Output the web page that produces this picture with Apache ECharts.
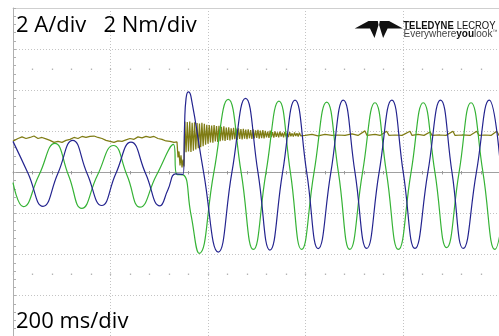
<!DOCTYPE html>
<html>
<head>
<meta charset="utf-8">
<script src="https://cdn.jsdelivr.net/npm/echarts@6.0.0/dist/echarts.min.js"></script>
<style>
  html, body { margin: 0; padding: 0; background: #fff; }
  #chart { width: 499px; height: 336px; }
</style>
</head>
<body>
<div id="chart"></div>
<script>
// scope capture: 200 ms/div, 2 A/div (phase currents), 2 Nm/div (torque)
const timeMin = 0, timeMax = 1000, timeDiv = 200;
const valueMin = -8, valueMax = 8, valueDiv = 2;

// [ms, A]
const blueCurrent = [
  [0, 1.51], [31, -0.05], [61.5, -1.65], [92, -0.05], [122.5, 1.56], [152, -0.05],
  [182, -1.61], [211, -0.05], [242, 1.47], [272, -0.05], [301.5, -1.63], [318, -0.83],
  [334, -0.07], [349, -0.10], [352, 2.34], [355, 3.6], [359.5, 3.92], [365, 3.7],
  [391, 0], [421, -3.88], [449, 0], [477, 3.6], [502.5, 0], [527, -3.78], [553, 0],
  [578.5, 3.52], [602.5, 0], [626, -3.71], [652, 0], [677.5, 3.52], [701.5, 0],
  [725.5, -3.7], [751, 0], [777, 3.52], [800.5, 0], [824.5, -3.7], [851, 0],
  [877, 3.52], [900.5, 0], [923.5, -3.7], [950.5, 0], [977, 3.52], [1001, 0]
];

const greenCurrent = [
  [0, -0.5], [21, -1.67], [53, -0.15], [86, 1.41], [114, -0.15], [141, -1.75],
  [173, -0.15], [206, 1.31], [234, -0.15], [260.5, -1.69], [294, -0.15], [329, 1.36],
  [336, -0.10], [349, -0.12], [365, -2.04], [382, -3.94], [412, 0], [441.5, 3.55],
  [468, 0], [493, -3.75], [519, 0], [545.5, 3.47], [569, 0], [592, -3.75], [617.5, 0],
  [643.5, 3.42], [667.5, 0], [691, -3.75], [717, 0], [742.5, 3.39], [766, 0],
  [790.5, -3.75], [816.5, 0], [841.5, 3.39], [865.5, 0], [889.5, -3.66], [915, 0],
  [939.5, 3.39], [964, 0], [988.5, -3.75], [1013, 0]
];

// [ms, Nm] before the step
const torquePre = [
  [0, 1.52], [10.3, 1.65], [18.5, 1.73], [26.7, 1.65], [34.9, 1.70], [43.1, 1.77],
  [51.3, 1.65], [59.5, 1.70], [67.7, 1.63], [75.9, 1.56], [84.1, 1.46], [92.3, 1.51],
  [100.5, 1.46], [108.7, 1.56], [116.9, 1.61], [125.1, 1.70], [133.3, 1.65], [141.5, 1.75],
  [149.7, 1.70], [158, 1.75], [166.2, 1.77], [174.4, 1.70], [182.6, 1.65], [190.8, 1.56],
  [199, 1.51], [207.2, 1.46], [215.4, 1.53], [223.6, 1.51], [231.8, 1.58], [240, 1.65],
  [248.2, 1.61], [256.4, 1.73], [264.6, 1.68], [272.8, 1.75], [281, 1.70], [289.2, 1.75],
  [297.4, 1.65], [305.6, 1.61], [313.8, 1.53], [322, 1.51], [330.3, 1.46], [336.4, 1.48],
  [338.5, 0.73], [340.5, 1.02], [342.6, 0.34], [344.6, 0.83], [346.7, 0.24], [348.7, 0.63],
  [350.8, 0.29]
];

// ringing after the step, sampled every 2.5 ms from 352.5 ms
const torqueBurstStart = 352.5;
const torqueBurstStep = 2.5;
const torqueBurst = [
  2.48, 0.98, 2.45, 1.02, 2.47, 0.99, 2.42, 1.06, 2.44,
  1.12, 2.40, 1.18, 2.38, 1.22, 2.41, 1.28, 2.36,
  1.35, 2.32, 1.40, 2.30, 1.46, 2.28, 1.44, 2.31, 1.50, 2.25, 1.48, 2.27, 1.52, 2.22, 1.55, 2.24, 1.53,
  2.18, 1.58, 2.20, 1.56, 2.15, 1.60, 2.17, 1.62, 2.13, 1.58, 2.14, 1.63, 2.11, 1.60, 2.12, 1.64,
  2.08, 1.62, 2.10, 1.66, 2.06, 1.63, 2.09, 1.65, 2.05, 1.68, 2.07, 1.64, 2.04, 1.67, 2.06, 1.66,
  2.02, 1.70, 1.98, 1.68, 2.03, 1.72, 1.96, 1.69, 2.00, 1.73, 1.95, 1.70, 1.99, 1.74, 1.93,
  1.71, 1.97, 1.75, 1.92, 1.72, 1.96, 1.76, 1.90, 1.74, 1.94, 1.77, 1.91, 1.75, 1.93, 1.78
];

// [ms, Nm] steady state
const torquePost = [
  [599, 1.80], [613.3, 1.85], [625.6, 1.78], [640, 1.85], [654.4, 1.80], [666.7, 1.82],
  [681, 1.80], [695.3, 1.87], [707.7, 1.80], [722, 2.02], [726.2, 1.80], [742.6, 1.85],
  [752.8, 1.80], [766.6, 2.00], [771.3, 1.80], [783.6, 1.82], [798, 1.80], [814.4, 2.00],
  [818.5, 1.80], [830.8, 1.85], [843.1, 1.80], [855.4, 1.97], [859.5, 1.80], [875.9, 1.82],
  [888.2, 1.80], [902.6, 2.00], [906.7, 1.80], [921, 1.82], [937.4, 1.80], [951.2, 2.00],
  [955.9, 1.80], [968.2, 1.82], [980.5, 1.80], [992.2, 2.00], [997, 1.80], [1005, 1.80]
];

const scaleText = '2 A/div   2 Nm/div';
const timeText = '200 ms/div';

const torque = torquePre.concat(
  torqueBurst.map((v, i) => [torqueBurstStart + i * torqueBurstStep, v]),
  torquePost
);

const gridColor = '#c4c4c4';
const dotLine = { type: [1, 2], color: gridColor, width: 1 };

function timeAxis(extra) {
  return Object.assign({
    type: 'value',
    min: timeMin,
    max: timeMax,
    interval: timeDiv,
    axisLabel: { show: false },
    splitLine: { show: false },
    axisLine: { show: false, onZero: false },
    axisTick: { show: false },
    minorTick: { show: false }
  }, extra);
}

const centerTick = { show: true, length: 2, lineStyle: { color: '#999', width: 1 } };
const dotTick = { show: true, length: 1.5, lineStyle: { color: '#b4b4b4', width: 1.3 } };

const chart = echarts.init(document.getElementById('chart'), null, { renderer: 'canvas' });

chart.setOption({
  animation: false,
  backgroundColor: '#fff',
  grid: { left: 13, top: 8, right: -1.5, bottom: -0.8, outerBoundsMode: 'none', containLabel: false },
  xAxis: [
    timeAxis({
      axisLine: { show: true, onZero: true, lineStyle: { color: '#a0a0a0', width: 1 } },
      axisTick: centerTick,
      minorTick: Object.assign({ splitNumber: 5 }, centerTick),
      splitLine: { show: true, lineStyle: dotLine }
    }),
    timeAxis({
      position: 'top',
      offset: -165,
      axisTick: centerTick,
      minorTick: Object.assign({ splitNumber: 5 }, centerTick)
    }),
    timeAxis({
      position: 'top',
      axisLine: { show: true, onZero: false, lineStyle: { color: '#cfcfcf', width: 1 } }
    }),
    timeAxis({
      position: 'top',
      offset: -62,
      axisTick: dotTick,
      minorTick: Object.assign({ splitNumber: 5 }, dotTick)
    }),
    timeAxis({
      position: 'bottom',
      offset: -61.8,
      axisTick: Object.assign({}, dotTick, { inside: true }),
      minorTick: Object.assign({ splitNumber: 5 }, dotTick)
    })
  ],
  yAxis: {
    type: 'value',
    min: valueMin,
    max: valueMax,
    interval: valueDiv,
    axisLabel: { show: false },
    axisLine: { show: true, lineStyle: { color: '#b0b0b0', width: 1 } },
    axisTick: { show: true, inside: true, length: 3, lineStyle: { color: '#b0b0b0' } },
    minorTick: { show: true, splitNumber: 5, length: 3, lineStyle: { color: '#b0b0b0' } },
    splitLine: { show: true, lineStyle: dotLine }
  },
  series: [
    {
      name: 'Torque',
      type: 'line',
      data: torque,
      showSymbol: false,
      lineStyle: { color: '#7f7c14', width: 1.25 },
      z: 2
    },
    {
      name: 'Phase B',
      type: 'line',
      data: greenCurrent,
      smooth: 0.5,
      showSymbol: false,
      lineStyle: { color: '#36b336', width: 1.2 },
      z: 3
    },
    {
      name: 'Phase A',
      type: 'line',
      data: blueCurrent,
      smooth: 0.5,
      showSymbol: false,
      lineStyle: { color: '#24248f', width: 1.2 },
      z: 4
    }
  ],
  graphic: [
    {
      type: 'text', x: 16, y: 25.4, z: 10,
      style: { text: scaleText, font: '22px "Open Sans"', fill: '#000', verticalAlign: 'middle' }
    },
    {
      type: 'text', x: 16, y: 322, z: 10,
      style: { text: timeText, font: '22px "Open Sans"', fill: '#000', verticalAlign: 'middle' }
    },
    {
      type: 'group', z: 10,
      children: [
        {
          type: 'polygon',
          shape: { points: [[354.7, 28.5], [368.5, 21], [377.8, 21], [378.5, 25], [374.5, 38], [370, 28.5]] },
          style: { fill: '#111' }
        },
        {
          type: 'polygon',
          shape: { points: [[402.9, 28.5], [389.1, 21], [379.8, 21], [379.1, 25], [383.1, 38], [387.6, 28.5]] },
          style: { fill: '#111' }
        }
      ]
    },
    {
      type: 'text', x: 403.3, y: 25.9, scaleX: 0.86, z: 10,
      style: {
        text: '{b|TELEDYNE} {r|LECROY}',
        verticalAlign: 'middle',
        rich: {
          b: { font: 'bold 11px "Liberation Sans"', fill: '#111' },
          r: { font: '11px "Liberation Sans"', fill: '#111' }
        }
      }
    },
    {
      type: 'text', x: 403.5, y: 33.9, z: 10,
      style: {
        text: '{r|Everywhere}{b|you}{r|look}{t|™}',
        verticalAlign: 'middle',
        rich: {
          r: { font: '10px "Liberation Sans"', fill: '#444' },
          b: { font: 'bold 10px "Liberation Sans"', fill: '#111' },
          t: { font: '5px "Liberation Sans"', fill: '#444', verticalAlign: 'top' }
        }
      }
    }
  ]
});
</script>
</body>
</html>
